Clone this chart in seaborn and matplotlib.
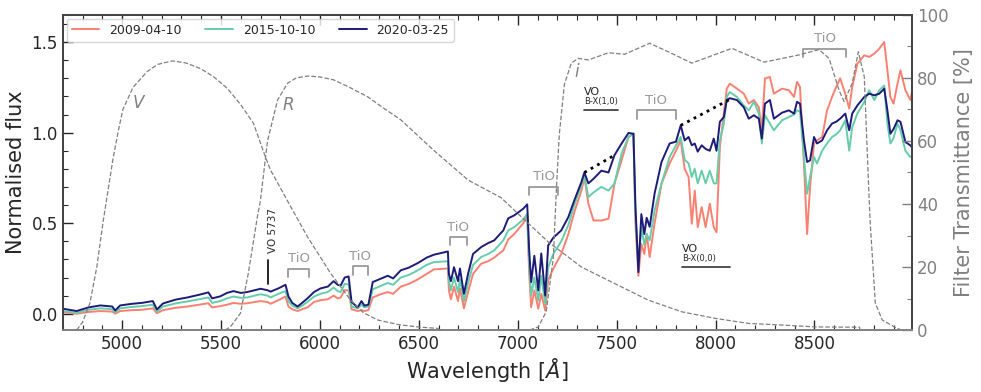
import numpy as np
import pandas as pd
import matplotlib
matplotlib.use("Agg")
import matplotlib.pyplot as plt
from matplotlib.ticker import MultipleLocator
import seaborn as sns

# --- Setup ---
sns.set_style("ticks")
plt.rcParams['font.family'] = ['DejaVu Sans']

# -----------------------------------------------
# Spectra
# -----------------------------------------------
wave = [4700, 4770, 4830, 4890, 4950, 4965, 4990, 5050, 5100, 5155, 5176, 5207,
        5270, 5330, 5390, 5436, 5455, 5496, 5530, 5563, 5600, 5633, 5670, 5700,
        5735, 5750, 5790, 5826, 5841, 5860, 5887, 5910, 5937, 5970, 6003, 6040,
        6069, 6090, 6105, 6125, 6145, 6160, 6191, 6210, 6225, 6245, 6267, 6300,
        6343, 6370, 6409, 6450, 6495, 6540, 6576, 6647, 6652, 6662, 6678, 6698,
        6708, 6728, 6749, 6774, 6815, 6850, 6881, 6927, 6952, 6982, 7028, 7048,
        7058, 7068, 7084, 7104, 7119, 7139, 7154, 7180, 7220, 7256, 7286, 7322,
        7337, 7357, 7383, 7423, 7459, 7489, 7525, 7560, 7585, 7595, 7610, 7625,
        7640, 7652, 7667, 7692, 7727, 7768, 7800, 7824, 7844, 7864, 7880, 7895,
        7910, 7930, 7950, 7971, 7991, 8005, 8022, 8042, 8057, 8072, 8108, 8143,
        8168, 8194, 8219, 8234, 8250, 8275, 8295, 8336, 8371, 8397, 8412, 8427,
        8447, 8463, 8478, 8498, 8513, 8539, 8564, 8589, 8610, 8630, 8656, 8676,
        8691, 8717, 8752, 8777, 8803, 8828, 8853, 8869, 8884, 8900, 8920, 8935,
        8960, 8985, 9005]

flux_2020 = [0.028, 0.015, 0.035, 0.046, 0.040, 0.018, 0.046, 0.055, 0.060, 0.070, 0.024, 0.057,
             0.078, 0.090, 0.105, 0.118, 0.085, 0.096, 0.115, 0.125, 0.115, 0.120, 0.130, 0.138,
             0.130, 0.122, 0.140, 0.160, 0.095, 0.060, 0.040, 0.060, 0.085, 0.120, 0.140, 0.150,
             0.180, 0.160, 0.156, 0.200, 0.206, 0.065, 0.035, 0.070, 0.045, 0.050, 0.175, 0.190,
             0.210, 0.195, 0.240, 0.255, 0.280, 0.310, 0.326, 0.344, 0.220, 0.180, 0.257, 0.180,
             0.250, 0.110, 0.220, 0.330, 0.368, 0.390, 0.405, 0.460, 0.527, 0.543, 0.580, 0.604,
             0.350, 0.175, 0.320, 0.129, 0.333, 0.100, 0.377, 0.420, 0.460, 0.534, 0.626, 0.727,
             0.780, 0.720, 0.745, 0.790, 0.780, 0.875, 0.940, 0.998, 0.994, 0.600, 0.230, 0.550,
             0.440, 0.530, 0.480, 0.664, 0.838, 0.940, 0.950, 1.040, 0.957, 0.976, 0.930, 0.940,
             0.895, 0.930, 0.910, 0.900, 0.967, 0.900, 1.060, 1.086, 1.180, 1.190, 1.180, 1.140,
             1.077, 1.096, 1.077, 0.967, 1.160, 1.180, 1.077, 1.110, 1.123, 1.105, 1.170, 1.160,
             0.957, 0.838, 0.847, 0.976, 0.940, 0.957, 1.013, 1.050, 1.060, 1.077, 1.105, 1.013,
             1.105, 1.150, 1.197, 1.215, 1.206, 1.215, 1.243, 1.123, 0.994, 1.020, 1.068, 1.060,
             0.948, 0.930, 0.900]

flux_2015 = [0.015, 0.005, 0.022, 0.030, 0.025, 0.008, 0.030, 0.038, 0.042, 0.050, 0.012, 0.040,
             0.057, 0.068, 0.080, 0.090, 0.060, 0.070, 0.085, 0.095, 0.088, 0.090, 0.100, 0.108,
             0.100, 0.090, 0.110, 0.125, 0.070, 0.045, 0.030, 0.045, 0.065, 0.095, 0.110, 0.120,
             0.145, 0.125, 0.120, 0.165, 0.162, 0.040, 0.030, 0.050, 0.035, 0.040, 0.135, 0.150,
             0.170, 0.160, 0.200, 0.215, 0.240, 0.270, 0.285, 0.290, 0.180, 0.130, 0.200, 0.120,
             0.190, 0.070, 0.170, 0.270, 0.313, 0.330, 0.350, 0.405, 0.460, 0.478, 0.520, 0.552,
             0.280, 0.100, 0.200, 0.073, 0.210, 0.055, 0.257, 0.330, 0.400, 0.490, 0.600, 0.710,
             0.764, 0.644, 0.670, 0.700, 0.680, 0.718, 0.884, 0.976, 0.994, 0.550, 0.270, 0.478,
             0.380, 0.440, 0.405, 0.570, 0.720, 0.865, 0.930, 0.976, 0.850, 0.830, 0.755, 0.800,
             0.720, 0.790, 0.720, 0.790, 0.720, 0.720, 0.957, 1.050, 1.197, 1.224, 1.197, 1.150,
             1.123, 1.170, 1.105, 0.940, 1.096, 1.050, 1.013, 1.068, 1.086, 1.100, 1.123, 1.117,
             0.865, 0.663, 0.755, 0.865, 0.830, 0.900, 0.940, 0.976, 0.990, 1.013, 1.068, 0.900,
             1.030, 1.105, 1.170, 1.234, 1.180, 1.234, 1.260, 1.050, 0.940, 0.970, 1.050, 1.013,
             0.900, 0.865, 0.884]

flux_2009 = [0.008, 0.000, 0.010, 0.015, 0.012, 0.000, 0.015, 0.020, 0.022, 0.030, 0.003, 0.020,
             0.033, 0.040, 0.050, 0.058, 0.035, 0.042, 0.050, 0.060, 0.055, 0.058, 0.065, 0.070,
             0.065, 0.055, 0.075, 0.095, 0.040, 0.025, 0.015, 0.025, 0.035, 0.065, 0.075, 0.080,
             0.100, 0.085, 0.090, 0.130, 0.129, 0.025, 0.015, 0.020, 0.015, 0.020, 0.090, 0.105,
             0.120, 0.110, 0.150, 0.165, 0.190, 0.220, 0.245, 0.250, 0.130, 0.080, 0.150, 0.070,
             0.140, 0.030, 0.120, 0.220, 0.276, 0.290, 0.310, 0.350, 0.410, 0.440, 0.500, 0.543,
             0.220, 0.036, 0.129, 0.028, 0.110, 0.018, 0.184, 0.250, 0.330, 0.440, 0.560, 0.680,
             0.755, 0.608, 0.515, 0.515, 0.525, 0.718, 0.847, 0.976, 0.994, 0.500, 0.210, 0.386,
             0.330, 0.440, 0.313, 0.500, 0.718, 0.830, 0.900, 0.957, 0.800, 0.755, 0.497, 0.680,
             0.478, 0.589, 0.478, 0.608, 0.478, 0.450, 0.920, 1.105, 1.243, 1.270, 1.243, 1.215,
             1.160, 1.180, 1.140, 1.013, 1.300, 1.307, 1.215, 1.243, 1.234, 1.197, 1.280, 1.252,
             0.830, 0.440, 0.700, 0.940, 0.957, 0.976, 1.123, 1.197, 1.252, 1.300, 1.215, 1.133,
             1.252, 1.380, 1.427, 1.418, 1.436, 1.464, 1.500, 1.344, 1.197, 1.160, 1.270, 1.344,
             1.234, 1.180, 1.290]

epochs = ['2009-04-10', '2015-10-10', '2020-03-25']
epoch_colors = ['salmon', 'mediumaquamarine', '#1c1c78']

# -----------------------------------------------
# Filter transmission curves [%]
# -----------------------------------------------
v_wave = [4770, 4800, 4837, 4872, 4903, 4928, 4953, 4980, 5004, 5055, 5126, 5180, 5253,
          5320, 5395, 5460, 5532, 5600, 5664, 5724, 5750, 5836, 5937, 6054, 6155, 6220,
          6292, 6400, 6495, 6600]
v_trans = [0, 2.5, 8.5, 20, 34, 44, 54, 63, 70, 77, 82, 84.3, 85.4,
           84.8, 83, 80.5, 76.7, 71.5, 65.6, 55, 50.8, 41, 29.6, 18, 9.5, 5.5,
           3.2, 1.7, 1, 0.5]

r_wave = [5520, 5547, 5598, 5638, 5684, 5699, 5735, 5786, 5836, 5880, 5937, 6000, 6069,
          6150, 6242, 6320, 6409, 6490, 6576, 6749, 6916, 7000, 7154, 7322, 7489, 7660,
          7829, 8000, 8168, 8336, 8505, 8728, 8730]
r_trans = [0, 1, 5.3, 18, 36, 41, 60, 73, 78.3, 80, 80.6, 80.3, 79.4,
           77, 74, 70.5, 66.7, 62, 57, 47.6, 42, 37, 28, 20, 14.8, 9.5,
           5.8, 3.7, 2.1, 1.6, 1.0, 0.9, 0]

i_wave = [7060, 7104, 7144, 7180, 7195, 7210, 7236, 7271, 7306, 7357, 7459, 7540, 7667,
          7778, 7880, 8083, 8245, 8422, 8523, 8574, 8625, 8650, 8691, 8722, 8752, 8777,
          8782, 8808, 8843, 8904, 8940]
i_trans = [0, 1, 5.8, 23, 44, 62, 78, 84.7, 86.2, 85.7, 88, 87.5, 91,
           87.8, 84.7, 89.4, 85, 87.3, 89, 86.2, 76, 72.5, 78.3, 88.3, 80.4, 41,
           34, 8.5, 3.2, 1, 0]

filter_names = ['V', 'R', 'i']
filter_label_wave = [5080, 5841, 7296]
filter_label_trans = [72, 71.4, 82]

# -----------------------------------------------
# Molecular band annotations
# -----------------------------------------------
tio_start = [5841, 6165, 6657, 7058, 7601, 8442]
tio_end = [5947, 6242, 6744, 7205, 7798, 8660]
tio_level = [0.249, 0.261, 0.423, 0.700, 1.123, 1.462]

vo_names = ['B-X(1,0)', 'B-X(0,0)']
vo_start = [7337, 7829]
vo_end = [7509, 8072]
vo_level = [1.123, 0.257]

cont_wave = [[7337, 7489], [7824, 8075]]
cont_flux = [[0.780, 0.875], [1.040, 1.185]]

# -----------------------------------------------
# Figure
# -----------------------------------------------
df = pd.DataFrame({
    'wave': wave * 3,
    'flux': flux_2009 + flux_2015 + flux_2020,
    'epoch': [e for e in epochs for _ in wave],
})

fig = plt.figure(figsize=(9.81, 3.92), dpi=100)
ax = fig.add_axes([0.064, 0.158, 0.866, 0.804])
ax2 = ax.twinx()

sns.lineplot(data=df, x='wave', y='flux', hue='epoch', hue_order=epochs,
             palette=epoch_colors, estimator=None, sort=False, lw=1.4, ax=ax)

# filter curves on the right axis
for fw, ft in [(v_wave, v_trans), (r_wave, r_trans), (i_wave, i_trans)]:
    sns.lineplot(x=fw, y=ft, ax=ax2, color='grey', lw=0.9, ls='--', sort=False)
for name, lw_, lt in zip(filter_names, filter_label_wave, filter_label_trans):
    ax2.text(lw_, lt, name, color='grey', fontsize=12, style='italic',
             ha='center', va='center')

# pseudo-continuum
for cw, cf in zip(cont_wave, cont_flux):
    ax.plot(cw, cf, ls=':', color='black', lw=2)

# TiO brackets
for s, e, lev in zip(tio_start, tio_end, tio_level):
    ax.plot([s, s, e, e], [lev - 0.045, lev, lev, lev - 0.045], color='#999999', lw=1.3)
    ax.text((s + e) / 2, lev + 0.02, 'TiO', color='#999999', fontsize=9.5,
            ha='center', va='bottom')

# VO bands
for name, s, e, lev in zip(vo_names, vo_start, vo_end, vo_level):
    ax.plot([s, e], [lev, lev], color='#444444', lw=1.3)
    ax.text(s, lev + 0.025, name, fontsize=6, ha='left', va='bottom')
    ax.text(s, lev + 0.075, 'VO', fontsize=8, ha='left', va='bottom')

# VO 5737 marker
ax.plot([5740, 5740], [0.166, 0.295], color='black', lw=1.2)
ax.text(5765, 0.335, 'VO 5737', rotation=90, fontsize=7.5, ha='center', va='bottom')

# --- axes styling ---
ax.set_xlim(4700, 8995)
ax.set_ylim(-0.09, 1.65)
ax2.set_ylim(0, 100)
ax.xaxis.set_major_locator(MultipleLocator(500))
ax.xaxis.set_minor_locator(MultipleLocator(100))
ax.yaxis.set_major_locator(MultipleLocator(0.5))
ax.yaxis.set_minor_locator(MultipleLocator(0.1))
ax2.yaxis.set_major_locator(MultipleLocator(20))
ax2.yaxis.set_minor_locator(MultipleLocator(10))

ax.tick_params(which='both', direction='in', top=True, labelsize=12)
ax.tick_params(which='major', length=7.5, width=1)
ax.tick_params(which='minor', length=3.5, width=0.8)
ax2.tick_params(which='both', direction='in', colors='grey', labelsize=12)
ax2.tick_params(which='major', length=7.5, width=1)
ax2.tick_params(which='minor', length=3.5, width=0.8)

ax.set_xlabel(r'Wavelength [$Å$]', fontsize=15, labelpad=2)
ax.set_ylabel('Normalised flux', fontsize=15)
ax2.set_ylabel('Filter Transmittance [%]', fontsize=15, color='grey')

for a in (ax, ax2):
    for sp in a.spines.values():
        sp.set_color('#444444')
        sp.set_linewidth(1.3)
ax2.spines['bottom'].set_color('#888888')

handles, labels = ax.get_legend_handles_labels()
ax.legend(handles, labels, loc='upper left', ncol=3, fontsize=9, handlelength=2.2,
          handletextpad=0.8, columnspacing=1.9, borderaxespad=0.3, frameon=True)

plt.savefig('out.png', dpi=100)
plt.close()
